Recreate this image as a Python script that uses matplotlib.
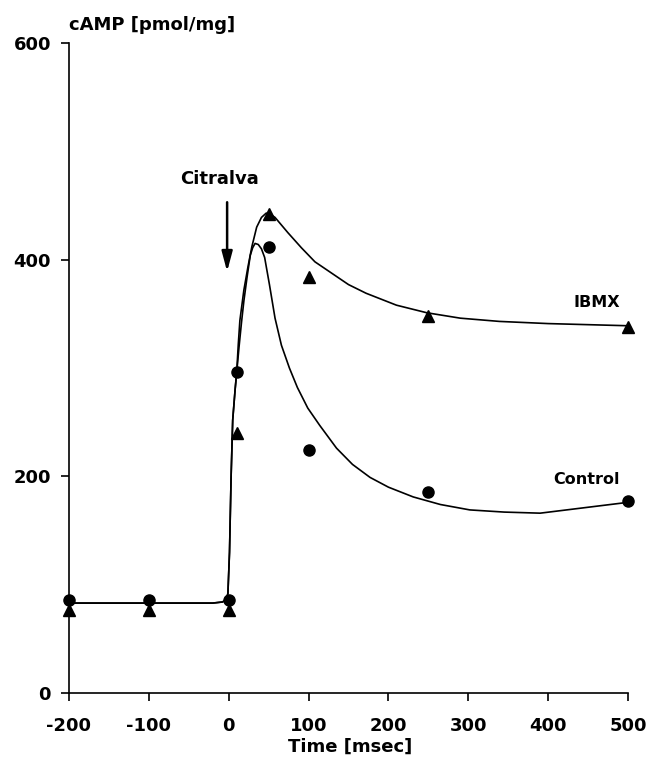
import matplotlib
matplotlib.use("Agg")
import matplotlib.pyplot as plt

plt.rcParams['font.family'] = ['DejaVu Sans']
plt.rcParams['axes.unicode_minus'] = False

# measured points
times = [-200, -100, 0, 10, 50, 100, 250, 500]
control = [86, 86, 86, 296, 412, 224, 186, 177]
ibmx = [77, 77, 77, 240, 442, 384, 348, 338]

# fitted curves
control_curve_x = [-200, -100, -20, -8, -3, -1, 1, 3, 5, 8, 10, 13, 16, 19, 23, 27, 30, 33,
                   37, 41, 45, 51, 58, 66, 76, 86, 99, 114, 135, 155, 177, 200, 231, 265,
                   302, 345, 390, 500]
control_curve_y = [83, 83, 83, 84, 86, 92, 130, 200, 252, 280, 296, 320, 342, 362, 384, 404, 411, 415,
                   414, 410, 402, 377, 346, 321, 300, 282, 263, 247, 226, 211, 199, 190, 181, 174,
                   169, 167, 166, 176]
ibmx_curve_x = [-200, -100, -20, -8, -3, -1, 1, 3, 5, 8, 10, 12, 14, 19, 24, 29, 35, 41, 47,
                52, 58, 66, 74, 91, 108, 130, 150, 172, 210, 248, 290, 339, 400, 500]
ibmx_curve_y = [83, 83, 83, 84, 86, 92, 130, 200, 252, 280, 296, 322, 344, 372, 393, 412, 430, 439, 443,
                442, 439, 432, 425, 411, 398, 387, 377, 369, 358, 351, 346, 343, 341, 339]

x_ticks = [-200, -100, 0, 100, 200, 300, 400, 500]
y_ticks = [0, 200, 400, 600]

fig = plt.figure(figsize=(6.5, 7.68), dpi=100)
ax = fig.add_axes([69/650, 1 - 693/768, 559/650, 650/768])

ax.plot(control_curve_x, control_curve_y, color='black', lw=1.2, clip_on=False)
ax.plot(ibmx_curve_x, ibmx_curve_y, color='black', lw=1.2, clip_on=False)
ax.plot(times, control, 'o', color='black', ms=8, clip_on=False, zorder=5)
ax.plot(times, ibmx, '^', color='black', ms=9, clip_on=False, zorder=5)

ax.set_xlim(-200, 500)
ax.set_ylim(0, 600)
ax.set_xticks(x_ticks)
ax.set_yticks(y_ticks)
for s in ['top', 'right']:
    ax.spines[s].set_visible(False)
for s in ['left', 'bottom']:
    ax.spines[s].set_linewidth(1.2)
ax.tick_params(axis='x', direction='out', length=6, width=1.2, pad=11, labelsize=13)
ax.tick_params(axis='y', direction='out', length=6, width=1.2, pad=7, labelsize=13)
for lab in ax.get_xticklabels() + ax.get_yticklabels():
    lab.set_fontweight('bold')

ax.text(0, 1.028, 'cAMP [pmol/mg]', transform=ax.transAxes, ha='left', va='center',
        fontsize=13, fontweight='bold')
ax.text(0.503, -0.083, 'Time [msec]', transform=ax.transAxes, ha='center', va='center',
        fontsize=13, fontweight='bold')

ax.text(-11, 474, 'Citralva', ha='center', va='center', fontsize=13, fontweight='bold')
ax.annotate('', xy=(-2, 389), xytext=(-2, 453),
            arrowprops=dict(arrowstyle='-|>,head_length=0.6,head_width=0.16',
                            color='black', lw=1.8, mutation_scale=20, shrinkA=0, shrinkB=0))
ax.text(461, 360, 'IBMX', ha='center', va='center', fontsize=11.5, fontweight='bold')
ax.text(448, 197, 'Control', ha='center', va='center', fontsize=11.5, fontweight='bold')

fig.savefig('out.png', dpi=100)
